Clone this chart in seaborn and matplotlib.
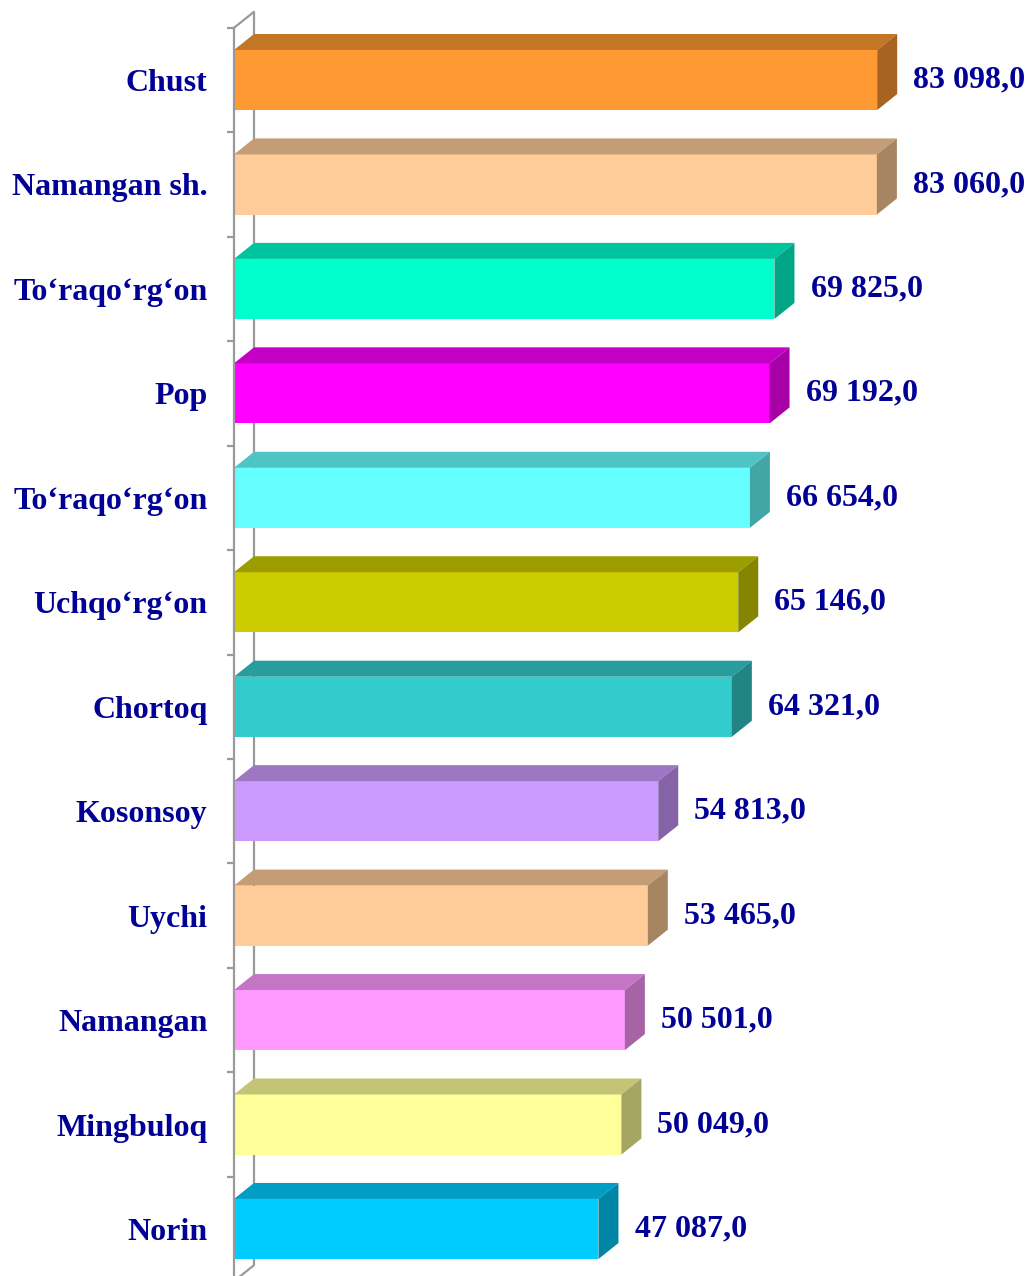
import numpy as np
import pandas as pd
import matplotlib
matplotlib.use("Agg")
import matplotlib.pyplot as plt
import matplotlib.colors as mcolors
from matplotlib.patches import Polygon
from matplotlib.lines import Line2D
from matplotlib.transforms import IdentityTransform
import seaborn as sns

districts = ["Chust", "Namangan sh.", "To‘raqo‘rg‘on", "Pop", "To‘raqo‘rg‘on ",
             "Uchqo‘rg‘on", "Chortoq", "Kosonsoy", "Uychi", "Namangan",
             "Mingbuloq", "Norin"]
values = [83098.0, 83060.0, 69825.0, 69192.0, 66654.0, 65146.0,
          64321.0, 54813.0, 53465.0, 50501.0, 50049.0, 47087.0]
colors = ["#FF9933", "#FFCC99", "#00FFCC", "#FF00FF", "#66FFFF", "#CCCC00",
          "#33CCCC", "#CC99FF", "#FFCC99", "#FF99FF", "#FFFF99", "#00CCFF"]

TEXT = "#000096"
WALL = "#9a9a9a"
DX, DY = 20, 16  # depth of the 3d effect in pixels


def shade(c, f):
    r, g, b = mcolors.to_rgb(c)
    return (r * f, g * f, b * f)


df = pd.DataFrame({"district": districts, "value": values})

sns.set_style("white")
plt.rcParams["font.family"] = ["Liberation Serif", "DejaVu Serif"]

W, H = 1027, 1276
fig = plt.figure(figsize=(W / 100, H / 100), dpi=100)
ax = fig.add_axes([234 / W, -5.2 / H, 774 / W, 1253.4 / H])
ax.patch.set_visible(False)

sns.barplot(data=df, y="district", x="value", hue="district", palette=colors,
            legend=False, width=0.575, saturation=1, orient="h", ax=ax,
            edgecolor="none")
ax.set_xlim(0, 100000)
ax.set_ylim(len(districts) - 0.5, -0.5)

fig.canvas.draw()

# 3d top and side faces built from the bar patches
for p, c in zip(ax.patches, colors):
    x0, y0 = p.get_x(), p.get_y()
    x1, y1 = x0 + p.get_width(), y0 + p.get_height()
    (px0, py0), (px1, py1) = ax.transData.transform([(x0, y0), (x1, y1)])
    top = max(py0, py1)
    bot = min(py0, py1)
    top_face = [(px0, top), (px1, top), (px1 + DX, top + DY), (px0 + DX, top + DY)]
    side_face = [(px1, bot), (px1, top), (px1 + DX, top + DY), (px1 + DX, bot + DY)]
    ax.add_patch(Polygon(top_face, closed=True, transform=IdentityTransform(),
                         facecolor=shade(c, 0.77), edgecolor="none", clip_on=False))
    ax.add_patch(Polygon(side_face, closed=True, transform=IdentityTransform(),
                         facecolor=shade(c, 0.65), edgecolor="none", clip_on=False))

# wall lines (back edge and diagonals), behind the bars
bb = ax.get_window_extent()
lines = [
    [(bb.x0 + DX, bb.y1 + DY), (bb.x0 + DX, bb.y0 + DY)],
    [(bb.x0, bb.y1), (bb.x0 + DX, bb.y1 + DY)],
    [(bb.x0, bb.y0), (bb.x0 + DX, bb.y0 + DY)],
]
for seg in lines:
    xs, ys = zip(*seg)
    fig.add_artist(Line2D(xs, ys, transform=IdentityTransform(), color=WALL,
                          lw=1.6, zorder=-1))

for s in ["top", "right", "bottom"]:
    ax.spines[s].set_visible(False)
ax.spines["left"].set_color(WALL)
ax.spines["left"].set_linewidth(1.6)

ax.set_xticks([])
ax.set_xlabel("")
ax.set_ylabel("")
ax.set_yticks(np.arange(-0.5, len(districts), 1), minor=True)
ax.tick_params(axis="y", which="minor", length=5, width=1.6, color=WALL, left=True)
ax.tick_params(axis="y", which="major", length=0, pad=19)
ax.set_yticks(range(len(districts)))
ax.set_yticklabels([d.strip() for d in districts], fontsize=23,
                   fontweight="bold", color=TEXT)

for i, v in enumerate(values):
    lab = f"{v:,.1f}".replace(",", " ").replace(".", ",")
    ax.annotate(lab, xy=(v, i), xytext=(26, 0), textcoords="offset points",
                ha="left", va="center", fontsize=23, fontweight="bold",
                color=TEXT, annotation_clip=False)

fig.savefig("out.png", dpi=100)
